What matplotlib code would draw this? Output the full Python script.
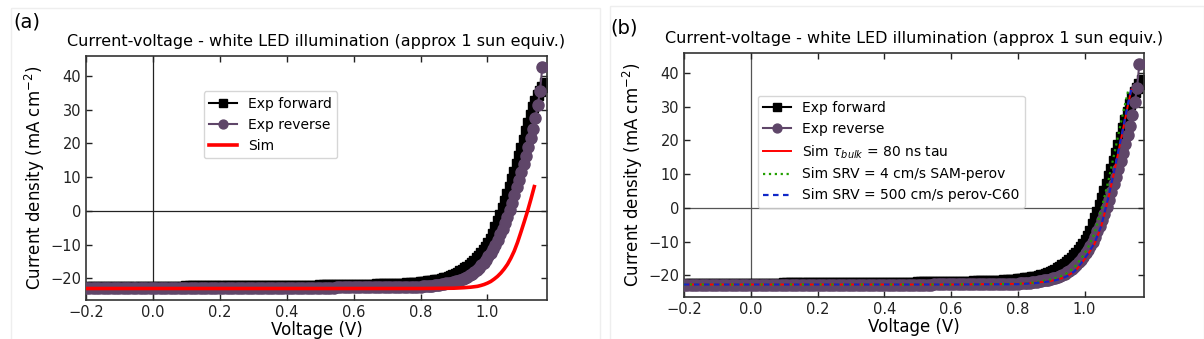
import matplotlib
matplotlib.use("Agg")
import matplotlib.pyplot as plt
from matplotlib.patches import Rectangle

plt.rcParams['font.family'] = ['DejaVu Sans']

# ---------------- data ----------------
V_exp = [-0.20, -0.19, -0.18, -0.17, -0.16, -0.15, -0.14, -0.13, -0.12, -0.11,
         -0.10, -0.09, -0.08, -0.07, -0.06, -0.05, -0.04, -0.03, -0.02, -0.01,
         0.00, 0.01, 0.02, 0.03, 0.04, 0.05, 0.06, 0.07, 0.08, 0.09,
         0.10, 0.11, 0.12, 0.13, 0.14, 0.15, 0.16, 0.17, 0.18, 0.19,
         0.20, 0.21, 0.22, 0.23, 0.24, 0.25, 0.26, 0.27, 0.28, 0.29,
         0.30, 0.31, 0.32, 0.33, 0.34, 0.35, 0.36, 0.37, 0.38, 0.39,
         0.40, 0.41, 0.42, 0.43, 0.44, 0.45, 0.46, 0.47, 0.48, 0.49,
         0.50, 0.51, 0.52, 0.53, 0.54, 0.55, 0.56, 0.57, 0.58, 0.59,
         0.60, 0.61, 0.62, 0.63, 0.64, 0.65, 0.66, 0.67, 0.68, 0.69,
         0.70, 0.71, 0.72, 0.73, 0.74, 0.75, 0.76, 0.77, 0.78, 0.79,
         0.800, 0.807, 0.814, 0.821, 0.828, 0.835, 0.842, 0.849, 0.856, 0.863,
         0.870, 0.877, 0.884, 0.891, 0.898, 0.905, 0.912, 0.919, 0.926, 0.933,
         0.940, 0.947, 0.954, 0.961, 0.968, 0.975, 0.982, 0.989, 0.996, 1.003,
         1.010, 1.017, 1.024, 1.031, 1.038, 1.045, 1.052, 1.059, 1.066, 1.073,
         1.080, 1.087, 1.094, 1.101, 1.108, 1.115, 1.122, 1.129, 1.136, 1.143,
         1.150, 1.157, 1.164, 1.171]

J_forward = [-22.5, -22.5, -22.5, -22.5, -22.5, -22.5, -22.5, -22.5, -22.5, -22.5,
             -22.4, -22.4, -22.4, -22.4, -22.4, -22.4, -22.4, -22.4, -22.4, -22.4,
             -22.4, -22.4, -22.4, -22.4, -22.4, -22.4, -22.4, -22.4, -22.4, -22.4,
             -22.3, -22.3, -22.3, -22.3, -22.3, -22.3, -22.3, -22.3, -22.3, -22.3,
             -22.3, -22.3, -22.3, -22.3, -22.3, -22.3, -22.3, -22.3, -22.3, -22.3,
             -22.2, -22.2, -22.2, -22.2, -22.2, -22.2, -22.2, -22.2, -22.2, -22.2,
             -22.2, -22.2, -22.2, -22.2, -22.2, -22.2, -22.2, -22.2, -22.2, -22.2,
             -22.1, -22.1, -22.1, -22.1, -22.1, -22.1, -22.1, -22.1, -22.1, -22.1,
             -22.0, -22.0, -22.0, -21.9, -21.9, -21.9, -21.9, -21.8, -21.8, -21.8,
             -21.8, -21.7, -21.7, -21.7, -21.6, -21.6, -21.5, -21.5, -21.4, -21.3,
             -21.2, -21.05, -21.0, -20.9, -20.8, -20.7, -20.6, -20.5, -20.4, -20.2,
             -20.0, -19.8, -19.55, -19.25, -19.0, -18.65, -18.3, -17.95, -17.5, -17.0,
             -16.5, -16.0, -15.45, -14.8, -14.1, -13.3, -12.45, -11.55, -10.55, -9.45,
             -8.2, -6.8, -4.9, -3.05, -1.15, 0.85, 2.9, 5.0, 7.15, 9.35,
             11.6, 13.9, 16.25, 18.65, 21.1, 23.55, 26.0, 28.45, 30.65, 32.6,
             34.2, 35.45, 36.7, 37.9]

J_reverse = [-22.9, -22.9, -22.9, -22.9, -22.9, -22.9, -22.9, -22.9, -22.9, -22.9,
             -22.9, -22.9, -22.9, -22.9, -22.9, -22.9, -22.9, -22.9, -22.9, -22.9,
             -22.8, -22.8, -22.8, -22.8, -22.8, -22.8, -22.8, -22.8, -22.8, -22.8,
             -22.8, -22.8, -22.8, -22.8, -22.8, -22.8, -22.8, -22.8, -22.8, -22.8,
             -22.8, -22.8, -22.8, -22.8, -22.8, -22.8, -22.8, -22.8, -22.8, -22.8,
             -22.7, -22.7, -22.7, -22.7, -22.7, -22.7, -22.7, -22.7, -22.7, -22.7,
             -22.7, -22.7, -22.7, -22.7, -22.7, -22.7, -22.7, -22.7, -22.7, -22.7,
             -22.7, -22.7, -22.7, -22.7, -22.7, -22.6, -22.6, -22.6, -22.6, -22.6,
             -22.6, -22.6, -22.6, -22.6, -22.6, -22.6, -22.6, -22.6, -22.6, -22.6,
             -22.5, -22.5, -22.5, -22.5, -22.5, -22.5, -22.5, -22.5, -22.5, -22.5,
             -22.4, -22.3, -22.3, -22.3, -22.2, -22.15, -22.1, -22.0, -21.9, -21.75,
             -21.6, -21.5, -21.4, -21.25, -21.05, -20.9, -20.7, -20.45, -20.15, -19.85,
             -19.5, -19.1, -18.65, -18.1, -17.55, -16.9, -16.15, -15.3, -14.4, -13.5,
             -12.5, -11.3, -10.0, -8.55, -6.95, -5.3, -3.55, -1.7, 0.35, 2.45,
             4.7, 7.0, 9.3, 11.55, 13.95, 16.4, 19.0, 21.6, 24.4, 27.4,
             31.3, 35.4, 42.6, None]

V_sim_a = [-0.20, 0.00, 0.20, 0.40, 0.60, 0.80, 0.85, 0.90, 0.93, 0.95, 0.97, 0.98,
           0.99, 1.00, 1.01, 1.02, 1.03, 1.04, 1.05, 1.06, 1.07, 1.08, 1.09,
           1.10, 1.11, 1.12, 1.13, 1.14]
J_sim_a = [-23.0, -23.0, -23.0, -23.0, -23.0, -23.0, -22.95, -22.9, -22.75, -22.6, -22.35, -22.1,
           -21.8, -21.4, -20.9, -20.2, -19.4, -18.4, -17.2, -15.8, -14.0, -11.9, -9.3,
           -6.3, -3.2, 0.0, 3.5, 7.2]

V_sim_b = [-0.20, 0.00, 0.20, 0.40, 0.60, 0.80, 0.85, 0.90, 0.93, 0.95, 0.97,
           0.99, 1.01, 1.03, 1.05, 1.07, 1.09, 1.11, 1.13, 1.14]
J_sim_tau = [-22.7, -22.7, -22.7, -22.7, -22.7, -22.5, -22.2, -21.6, -20.9, -20.0, -18.9,
             -16.6, -13.8, -10.6, -5.5, 2.3, 11.2, 20.8, 30.5, 35.0]
J_sim_srv_sam = [-22.7, -22.7, -22.7, -22.7, -22.7, -22.5, -22.1, -21.2, -20.2, -19.2, -17.5,
                 -15.0, -11.8, -7.5, -0.5, 7.5, 16.5, 25.8, 34.5, None]
J_sim_srv_c60 = [-22.7, -22.7, -22.7, -22.7, -22.7, -22.6, -22.3, -21.7, -21.0, -20.1, -18.8,
                 -16.4, -13.6, -10.4, -5.3, 2.6, 11.5, 21.0, 30.8, 35.2]

x_ticks = [-0.2, 0.0, 0.2, 0.4, 0.6, 0.8, 1.0]
y_ticks = [-20, -10, 0, 10, 20, 30, 40]
title = "Current-voltage - white LED illumination (approx 1 sun equiv.)"

PURPLE = "#5f4669"

# ---------------- figure ----------------
fig = plt.figure(figsize=(12.04, 3.39), dpi=100)
W, H = 1204, 339

def add_axes(l, r, t, b):
    return fig.add_axes([l / W, 1 - b / H, (r - l) / W, (b - t) / H])

axa = add_axes(86, 547, 56, 300)
axb = add_axes(684, 1144, 53, 297)

def Vclean(V, J):
    pts = [(v, j) for v, j in zip(V, J) if j is not None]
    return [p[0] for p in pts], [p[1] for p in pts]

def style(ax, axis_color):
    ax.set_xlim(-0.2, 1.178)
    ax.set_ylim(-26.4, 45.9)
    ax.set_xticks(x_ticks)
    ax.set_yticks(y_ticks)
    ax.tick_params(direction='in', top=True, right=True, labelsize=10.5,
                   length=4, width=1, colors='#222222')
    for s in ax.spines.values():
        s.set_linewidth(1.2)
        s.set_color('#333333')
    ax.axhline(0, color=axis_color, lw=0.9, zorder=1)
    ax.axvline(0, color=axis_color, lw=0.9, zorder=1)
    ax.set_xlabel("Voltage (V)", fontsize=12, labelpad=1)
    ax.set_ylabel("Current density (mA cm$^{-2}$)", fontsize=12, labelpad=2)
    ax.set_title(title, fontsize=11.5, pad=7)

for ax, col in ((axa, '#222222'), (axb, '#555555')):
    vf, jf = Vclean(V_exp, J_forward)
    vr, jr = Vclean(V_exp, J_reverse)
    ax.plot(vf, jf, '-s', color='black', ms=7, lw=1.5, label='Exp forward', zorder=2)
    ax.plot(vr, jr, '-o', color=PURPLE, ms=8, lw=1.5, label='Exp reverse', zorder=3)
    style(ax, col)

axa.plot(V_sim_a, J_sim_a, '-', color='#ff0000', lw=2.6, label='Sim', zorder=4)

axb.plot(V_sim_b, J_sim_tau, '-', color='#ff0000', lw=1.4,
         label=r'Sim $\tau_{bulk}$ = 80 ns tau', zorder=4)
v, j = Vclean(V_sim_b, J_sim_srv_sam)
axb.plot(v, j, ':', color='#22a000', lw=1.6,
         label='Sim SRV = 4 cm/s SAM-perov', zorder=5)
axb.plot(V_sim_b, J_sim_srv_c60, '--', color='#1028c8', lw=1.6, dashes=(2.5, 2),
         label='Sim SRV = 500 cm/s perov-C60', zorder=6)

axa.legend(loc='upper left', bbox_to_anchor=(0.255, 0.855), fontsize=10,
           borderaxespad=0, handlelength=2.0, markerscale=0.8)
axb.legend(loc='upper left', bbox_to_anchor=(0.160, 0.825), fontsize=10,
           borderaxespad=0, handlelength=2.0, markerscale=0.8)

fig.text(27 / W, 1 - 22 / H, "(a)", fontsize=14, ha='center', va='center')
fig.text(624 / W, 1 - 28 / H, "(b)", fontsize=14, ha='center', va='center')

# faint panel frames
for x0, y0, x1 in ((11, 8, 600), (610, 6, 1204)):
    fig.add_artist(Rectangle((x0 / W, -0.01), (x1 - x0) / W, 1 - y0 / H + 0.01,
                             transform=fig.transFigure, fill=False,
                             edgecolor='#eeeeee', lw=1))

fig.savefig("out.png", dpi=100)
